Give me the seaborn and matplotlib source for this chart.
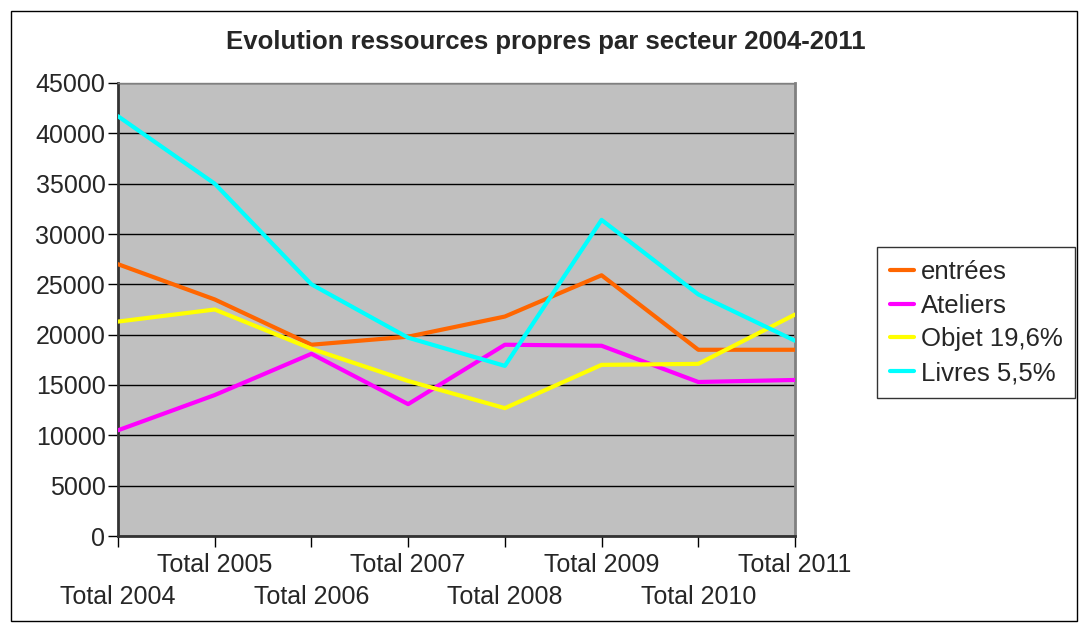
import matplotlib
matplotlib.use("Agg")
import matplotlib.pyplot as plt
import seaborn as sns
import pandas as pd
from matplotlib.patches import Rectangle

categories = ["Total 2004", "Total 2005", "Total 2006", "Total 2007",
              "Total 2008", "Total 2009", "Total 2010", "Total 2011"]
entrees = [27000, 23500, 19000, 19800, 21800, 25900, 18500, 18500]
ateliers = [10500, 14000, 18100, 13100, 19000, 18900, 15300, 15500]
objet = [21300, 22500, 18600, 15400, 12700, 17000, 17100, 22000]
livres = [41700, 35000, 25000, 19700, 16900, 31400, 24000, 19400]
series_names = ["entrées", "Ateliers", "Objet 19,6%", "Livres 5,5%"]
y_ticks = list(range(0, 45001, 5000))

sns.set_theme(style="white")
plt.rcParams['font.family'] = ['Liberation Sans', 'DejaVu Sans']

rows = []
for name, vals in zip(series_names, [entrees, ateliers, objet, livres]):
    for i, v in enumerate(vals):
        rows.append({"idx": i, "value": v, "serie": name})
df = pd.DataFrame(rows)

fig = plt.figure(figsize=(10.81, 6.23), dpi=100)
fig.patch.set_facecolor("white")
ax = fig.add_axes([118/1081, 1-536/623, (795-118)/1081, (536-83)/623])
ax.set_facecolor("#C0C0C0")

palette = {"entrées": "#FF6600", "Ateliers": "#FF00FF",
           "Objet 19,6%": "#FFFF00", "Livres 5,5%": "#00FFFF"}
sns.lineplot(data=df, x="idx", y="value", hue="serie", palette=palette,
             hue_order=series_names, linewidth=3.0, ax=ax, legend=True, zorder=3)

ax.set_xlim(0, len(categories) - 1)
ax.set_ylim(0, 45000)
ax.set_yticks(y_ticks)
ax.set_yticklabels([str(t) for t in y_ticks], fontsize=18)
ax.set_xticks(range(len(categories)))
ax.set_xticklabels(categories, fontsize=18)
ax.set_xlabel("")
ax.set_ylabel("")
ax.grid(axis="y", color="black", linewidth=1.0, zorder=1)
ax.set_axisbelow(True)

ax.tick_params(axis="y", direction="out", length=7, width=1, color="black", pad=2, left=True)
ax.tick_params(axis="x", direction="out", length=8, width=1, color="black", bottom=True)
for i, t in enumerate(ax.xaxis.get_major_ticks()):
    t.set_pad(27 if i % 2 == 0 else 4)

for s in ["left", "bottom"]:
    ax.spines[s].set_color("#333333")
    ax.spines[s].set_linewidth(2)
ax.spines["top"].set_color("#808080")
ax.spines["right"].set_color("#808080")
ax.spines["right"].set_linewidth(2)
ax.spines["top"].set_linewidth(1)

leg = ax.legend(loc="upper left", bbox_to_anchor=(877/1081, 1-247/623),
                bbox_transform=fig.transFigure, fontsize=18.5, frameon=True,
                fancybox=False, edgecolor="black", handlelength=0.95,
                handletextpad=0.25, borderpad=0.5, labelspacing=0.38,
                borderaxespad=0)
leg.get_frame().set_linewidth(1)
for line in leg.get_lines():
    line.set_linewidth(3)
leg.set_title(None)

fig.text(546/1081, 1-42/623, "Evolution ressources propres par secteur 2004-2011",
         ha="center", va="center", fontsize=18.5, fontweight="bold")

fig.patches.append(Rectangle((11/1081, 1-621/623), (1077-11)/1081, (621-11)/623,
                             transform=fig.transFigure, fill=False,
                             edgecolor="black", linewidth=1))

fig.savefig("out.png", dpi=100)
